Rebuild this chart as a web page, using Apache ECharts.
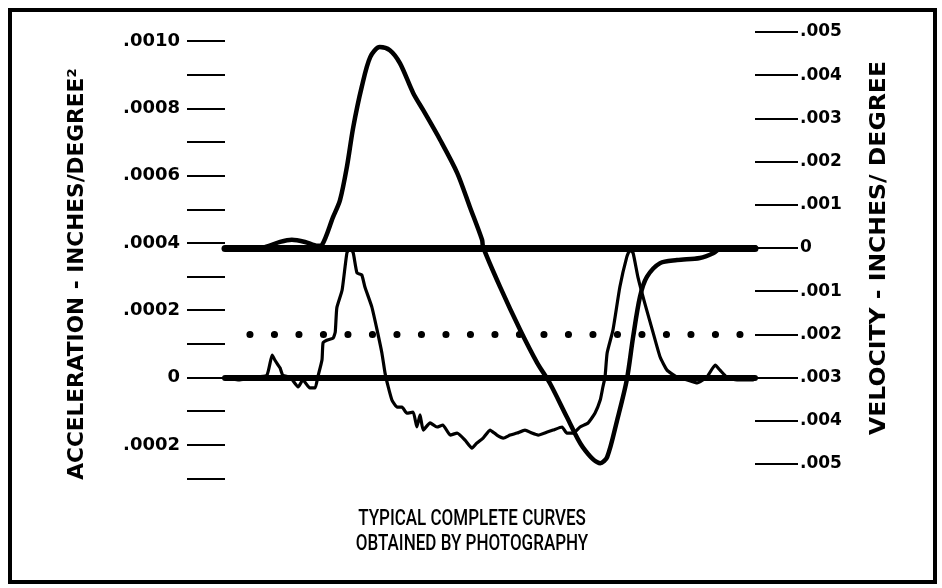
<!DOCTYPE html>
<html>
<head>
<meta charset="utf-8">
<script src="https://cdn.jsdelivr.net/npm/echarts@6/dist/echarts.min.js"></script>
<style>
  html, body { margin: 0; padding: 0; background: #fff; }
  #chart { width: 942px; height: 588px; }
</style>
</head>
<body>
<div id="chart"></div>
<script>
// ---- Data (x in arbitrary cam-angle units 0..100) ----
// Acceleration trace (inches/degree^2)
const accelX = [0.0, 2.8, 5.3, 7.9, 8.9, 9.4, 10.4, 10.9, 12.3, 13.8, 14.7, 16.0, 17.0, 17.5, 18.3, 18.5, 19.2, 20.4, 20.8,
  21.1, 22.1, 23.0, 23.6, 24.2, 24.9, 25.8, 26.4, 27.7, 28.7, 29.6, 30.2, 30.8, 31.5, 32.5, 33.4, 34.3, 35.5, 36.2, 36.8,
  37.4, 38.7, 40.0, 41.1, 42.5, 43.8, 45.3, 46.6, 47.5, 48.7, 50.0, 51.3, 52.5, 53.8, 55.1, 56.6, 57.9, 59.1, 60.8, 61.9,
  63.6, 64.5, 65.7, 67.0, 68.5, 69.8, 70.8, 71.3, 71.7, 72.1, 73.2, 74.5, 75.8, 76.4, 77.0, 77.9, 79.2, 80.8, 82.1, 83.4,
  85.3, 87.2, 89.1, 90.9, 92.5, 93.4, 94.7, 96.6, 99.6];
const accelY = [-0.000001, -0.000007, 0.000001, 0.000007, 0.000067, 0.000052, 0.000028, 0.000007, 0.000001, -0.000028,
  -0.000007, -0.000031, -0.000031, 0.000001, 0.000052, 0.000103, 0.000111, 0.000117, 0.000135,
  0.000207, 0.000260, 0.000370, 0.000385, 0.000370, 0.000311, 0.000305, 0.000269, 0.000210, 0.000141, 0.000073, 0.000013,
  -0.000028, -0.000067, -0.000088, -0.000088, -0.000106, -0.000103, -0.000147, -0.000111,
  -0.000156, -0.000135, -0.000147, -0.000141, -0.000171, -0.000165, -0.000186, -0.000210, -0.000195, -0.000180, -0.000156,
  -0.000171, -0.000180, -0.000171, -0.000165, -0.000156, -0.000165, -0.000171, -0.000162, -0.000156,
  -0.000147, -0.000165, -0.000165, -0.000147, -0.000135, -0.000106, -0.000067, -0.000028, 0.000001, 0.000073, 0.000141,
  0.000269, 0.000358, 0.000379, 0.000370, 0.000299, 0.000221, 0.000132, 0.000061, 0.000022,
  0.000001, -0.000007, -0.000016, 0.000001, 0.000037, 0.000022, 0.000001, -0.000007, -0.000007];

// Velocity trace (inches/degree)
const veloX = [0.0, 4.7, 7.5, 10.4, 12.6, 15.1, 17.5, 18.3, 20.4, 21.7, 23.0, 24.2, 25.8, 27.4, 29.2, 31.1, 33.0, 35.5,
  37.4, 40.6, 43.8, 46.2, 48.5, 48.7, 51.9, 55.7, 58.9, 61.3, 64.5, 67.5, 70.8, 72.1, 74.0, 75.8, 77.0, 78.3, 79.6, 82.1,
  85.3, 89.6, 92.1, 94.0, 100.0];
const veloY = [-0.00002, -0.00002, 0.00002, 0.00014, 0.00019, 0.00014, 0.00005, 0.00007, 0.00072, 0.00111, 0.00188,
  0.00280, 0.00373, 0.00442, 0.00465, 0.00458, 0.00428, 0.00359, 0.00319, 0.00250, 0.00174, 0.00095, 0.00019, 0.00002,
  -0.00090, -0.00190, -0.00266, -0.00313, -0.00391, -0.00461, -0.00498, -0.00484, -0.00398, -0.00306, -0.00206, -0.00113,
  -0.00067, -0.00035, -0.00028, -0.00023, -0.00012, 0.00002, 0.00002];

// Dotted reference level (velocity axis)
const dotLevel = -0.002;
const dotRange = [4.7, 97.2];

// Axis ticks
const accelTicks = { min: -0.0003, max: 0.0010, step: 0.0001 };
const veloTicks = { min: -0.005, max: 0.005, step: 0.001 };

// Texts
const titleLines = ['TYPICAL COMPLETE CURVES', 'OBTAINED BY PHOTOGRAPHY'];
const leftTitle = 'ACCELERATION - INCHES/DEGREE\u00B2';
const rightTitle = 'VELOCITY - INCHES/ DEGREE';

// ---- Build ----
const chart = echarts.init(document.getElementById('chart'), null, { renderer: 'canvas' });

function accelLabel(v) {
  const n = Math.round(v * 10000);
  if (n % 2 !== 0) return '';
  if (n === 0) return '0';
  return '.' + String(Math.abs(n)).padStart(4, '0');
}
function veloLabel(v) {
  const n = Math.round(v * 1000);
  if (n === 0) return '0';
  return '.' + String(Math.abs(n)).padStart(3, '0');
}

const zip = (xs, ys) => xs.map((x, i) => [x, ys[i]]);

const option = {
  backgroundColor: '#ffffff',
  animation: false,
  grid: [
    { left: 225, width: 530, top: 41, height: 437.5 },
    { left: 225, width: 530, top: 32, height: 432 }
  ],
  xAxis: [
    { type: 'value', gridIndex: 0, min: 0, max: 100,
      axisLine: { show: true, onZero: true, lineStyle: { color: '#000', width: 6 } },
      axisTick: { show: false }, axisLabel: { show: false }, splitLine: { show: false } },
    { type: 'value', gridIndex: 1, min: 0, max: 100,
      axisLine: { show: true, onZero: true, lineStyle: { color: '#000', width: 7 } },
      axisTick: { show: false }, axisLabel: { show: false }, splitLine: { show: false } }
  ],
  yAxis: [
    { type: 'value', gridIndex: 0, position: 'left',
      min: accelTicks.min, max: accelTicks.max, interval: accelTicks.step,
      axisLine: { show: false, onZero: false },
      axisTick: { show: true, length: 38, lineStyle: { color: '#000', width: 2 } },
      axisLabel: { margin: 45, formatter: accelLabel, color: '#000',
        fontFamily: 'DejaVu Sans', fontWeight: 'bold', fontSize: 18 },
      splitLine: { show: false } },
    { type: 'value', gridIndex: 1, position: 'right',
      min: veloTicks.min, max: veloTicks.max, interval: veloTicks.step,
      axisLine: { show: false, onZero: false },
      axisTick: { show: true, length: 43, lineStyle: { color: '#000', width: 2 } },
      axisLabel: { margin: 45, formatter: veloLabel, color: '#000',
        fontFamily: 'DejaVu Sans', fontWeight: 'bold', fontSize: 17 },
      splitLine: { show: false } }
  ],
  series: [
    { name: 'Acceleration', type: 'line', xAxisIndex: 0, yAxisIndex: 0,
      data: zip(accelX, accelY), showSymbol: false, symbol: 'none', smooth: 0.15,
      lineStyle: { color: '#000', width: 3.2, join: 'round', cap: 'round' } },
    { name: 'Velocity', type: 'line', xAxisIndex: 1, yAxisIndex: 1,
      data: zip(veloX, veloY), showSymbol: false, symbol: 'none', smooth: 0.3,
      lineStyle: { color: '#000', width: 4.5, join: 'round', cap: 'round' } },
    { name: 'Reference', type: 'line', xAxisIndex: 1, yAxisIndex: 1,
      data: [[dotRange[0], dotLevel], [dotRange[1], dotLevel]], showSymbol: false, symbol: 'none',
      lineStyle: { color: '#000', width: 7, type: [0.1, 24.4], cap: 'round' } }
  ],
  graphic: [
    { type: 'rect', shape: { x: 10, y: 10, width: 925, height: 572 },
      style: { fill: 'none', stroke: '#000', lineWidth: 4 }, silent: true },
    { type: 'text', x: 78, y: 274, rotation: Math.PI / 2, scaleX: 1.03,
      style: { text: leftTitle, font: 'bold 21px "DejaVu Sans"', fill: '#000',
        textAlign: 'center', textVerticalAlign: 'middle' } },
    { type: 'text', x: 880, y: 248, rotation: Math.PI / 2, scaleX: 1.12,
      style: { text: rightTitle, font: 'bold 21px "DejaVu Sans"', fill: '#000',
        textAlign: 'center', textVerticalAlign: 'middle' } },
    { type: 'text', x: 472, y: 520, scaleY: 1.25,
      style: { text: titleLines[0], font: '500 17px Roboto', fill: '#000',
        textAlign: 'center', textVerticalAlign: 'middle' } },
    { type: 'text', x: 472, y: 545, scaleY: 1.25,
      style: { text: titleLines[1], font: '500 17px Roboto', fill: '#000',
        textAlign: 'center', textVerticalAlign: 'middle' } }
  ]
};
chart.setOption(option);
</script>
</body>
</html>
